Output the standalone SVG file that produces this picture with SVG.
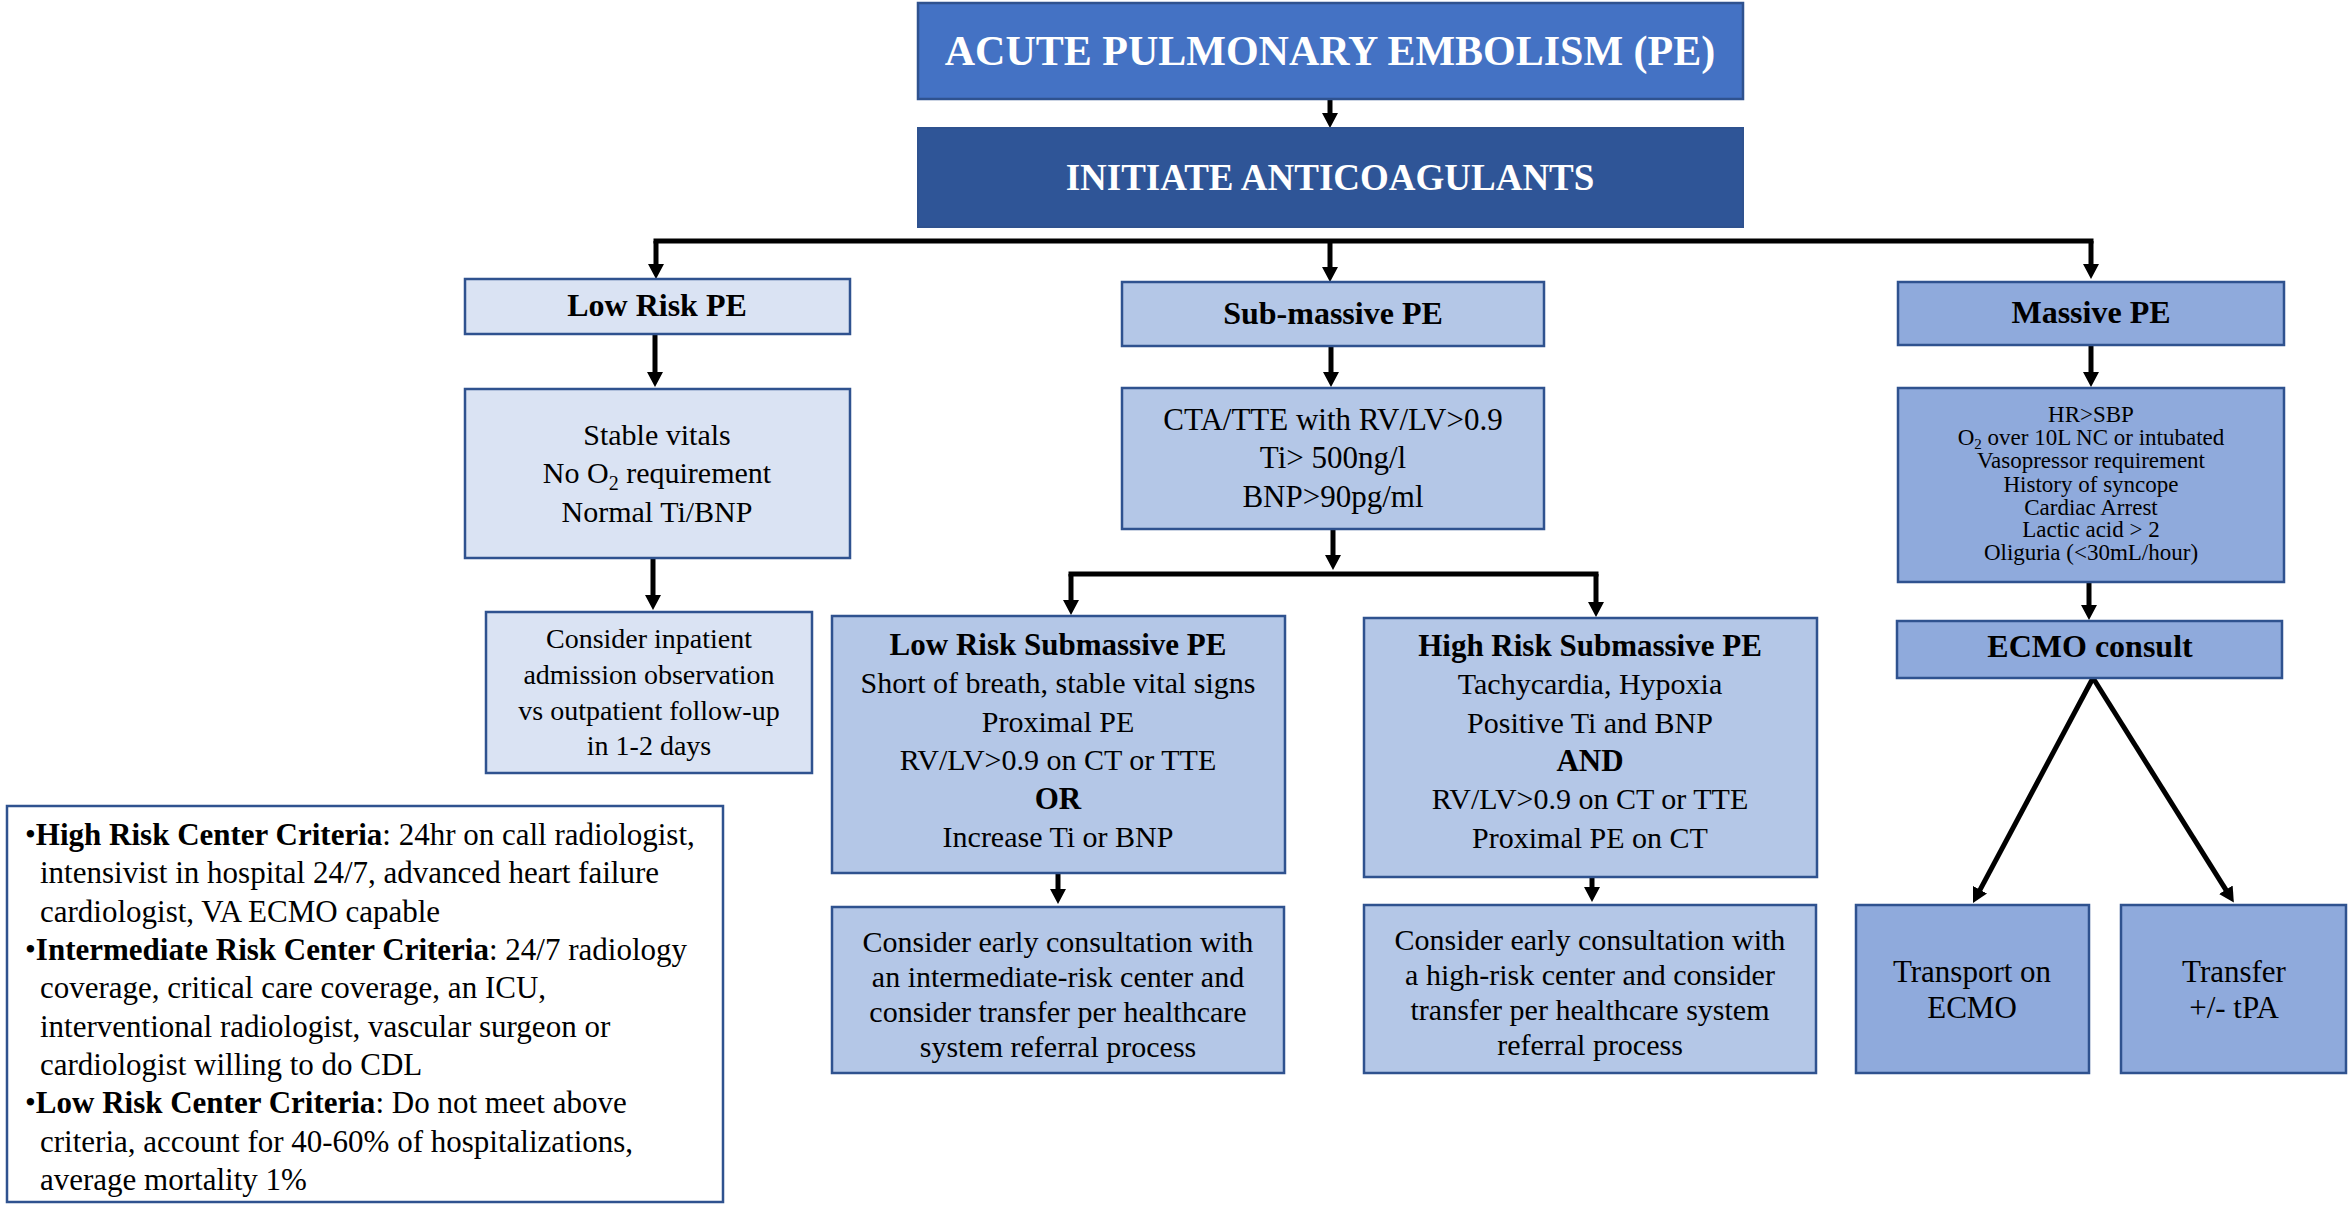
<svg xmlns="http://www.w3.org/2000/svg" width="2348" height="1205" viewBox="0 0 2348 1205" font-family="'Liberation Serif', 'DejaVu Serif', serif">
<style>
text{font-family:'Liberation Serif','DejaVu Serif',serif;fill:#000}
.c{text-anchor:middle}
.b{font-weight:bold}
.w{fill:#fff}
.box{stroke:#2F528F;stroke-width:2.5}
.l1{fill:#DAE3F3}
.l2{fill:#B4C7E7}
.l3{fill:#8FAADC}
.ln{stroke:#000;stroke-width:5;fill:none}
.ar{stroke:#000;stroke-width:5;fill:none;marker-end:url(#ah)}
</style>
<defs>
<marker id="ah" markerWidth="16" markerHeight="16" refX="1" refY="8" orient="auto" markerUnits="userSpaceOnUse"><path d="M0,0 L15,8 L0,16 z" fill="#000"/></marker>
</defs>
<rect width="2348" height="1205" fill="#fff"/>

<g id="connectors">
<path class="ar" d="M1330 99 V114"/>
<path class="ln" d="M653.5 241 H2093.5"/>
<path class="ar" d="M656 241 V265"/>
<path class="ar" d="M1330 241 V268"/>
<path class="ar" d="M2091 241 V265"/>
<path class="ar" d="M655 334 V373"/>
<path class="ar" d="M1331 346 V373"/>
<path class="ar" d="M2091 345 V373"/>
<path class="ar" d="M653 558 V596"/>
<path class="ar" d="M1333 529 V556"/>
<path class="ln" d="M1068.5 574 H1598.5"/>
<path class="ar" d="M1071 574 V601"/>
<path class="ar" d="M1596 574 V603"/>
<path class="ar" d="M2089 582 V606"/>
<path class="ar" d="M1058 873 V890"/>
<path class="ar" d="M1592 877 V888"/>
<path class="ar" d="M2093 678 L1979.6 890.6"/>
<path class="ar" d="M2093 678 L2226.4 890.6"/>
</g>

<g id="title">
<rect x="918" y="3" width="825" height="96" fill="#4472C4" class="box"/>
<text class="c w b" x="1330" y="65" font-size="42">ACUTE PULMONARY EMBOLISM (PE)</text>
</g>
<g id="initiate">
<rect x="918" y="128" width="825" height="99" fill="#2F5597" stroke="#2F528F" stroke-width="2"/>
<text class="c w b" x="1330" y="190" font-size="37">INITIATE ANTICOAGULANTS</text>
</g>

<g id="lowrisk">
<rect x="465" y="279" width="385" height="55" class="box l1"/>
<text class="c b" x="657" y="316" font-size="32">Low Risk PE</text>
</g>
<g id="lowrisk-criteria">
<rect x="465" y="389" width="385" height="169" class="box l1"/>
<text class="c" x="657" y="445" font-size="30">Stable vitals</text>
<text class="c" x="657" y="483" font-size="30">No O<tspan font-size="20" dy="7">2</tspan><tspan dy="-7"> requirement</tspan></text>
<text class="c" x="657" y="522" font-size="30">Normal Ti/BNP</text>
</g>
<g id="lowrisk-action">
<rect x="486" y="612" width="326" height="161" class="box l1"/>
<text class="c" x="649" y="648" font-size="28">Consider inpatient</text>
<text class="c" x="649" y="684" font-size="28">admission observation</text>
<text class="c" x="649" y="720" font-size="28">vs outpatient follow-up</text>
<text class="c" x="649" y="755" font-size="28">in 1-2 days</text>
</g>

<g id="submassive">
<rect x="1122" y="282" width="422" height="64" class="box l2"/>
<text class="c b" x="1333" y="324" font-size="32">Sub-massive PE</text>
</g>
<g id="submassive-criteria">
<rect x="1122" y="388" width="422" height="141" class="box l2"/>
<text class="c" x="1333" y="430" font-size="31">CTA/TTE with RV/LV&gt;0.9</text>
<text class="c" x="1333" y="468" font-size="31">Ti&gt; 500ng/l</text>
<text class="c" x="1333" y="507" font-size="31">BNP&gt;90pg/ml</text>
</g>

<g id="low-risk-submassive">
<rect x="832" y="616" width="453" height="257" class="box l2"/>
<text class="c b" x="1058" y="655" font-size="31">Low Risk Submassive PE</text>
<text class="c" x="1058" y="693" font-size="30">Short of breath, stable vital signs</text>
<text class="c" x="1058" y="732" font-size="30">Proximal PE</text>
<text class="c" x="1058" y="770" font-size="30">RV/LV&gt;0.9 on CT or TTE</text>
<text class="c b" x="1058" y="809" font-size="31">OR</text>
<text class="c" x="1058" y="847" font-size="30">Increase Ti or BNP</text>
</g>
<g id="high-risk-submassive">
<rect x="1364" y="618" width="453" height="259" class="box l2"/>
<text class="c b" x="1590" y="656" font-size="31">High Risk Submassive PE</text>
<text class="c" x="1590" y="694" font-size="30">Tachycardia, Hypoxia</text>
<text class="c" x="1590" y="733" font-size="30">Positive Ti and BNP</text>
<text class="c b" x="1590" y="771" font-size="31">AND</text>
<text class="c" x="1590" y="809" font-size="30">RV/LV&gt;0.9 on CT or TTE</text>
<text class="c" x="1590" y="848" font-size="30">Proximal PE on CT</text>
</g>
<g id="low-submassive-action">
<rect x="832" y="907" width="452" height="166" class="box l2"/>
<text class="c" x="1058" y="952" font-size="30">Consider early consultation with</text>
<text class="c" x="1058" y="987" font-size="30">an intermediate-risk center and</text>
<text class="c" x="1058" y="1022" font-size="30">consider transfer per healthcare</text>
<text class="c" x="1058" y="1057" font-size="30">system referral process</text>
</g>
<g id="high-submassive-action">
<rect x="1364" y="905" width="452" height="168" class="box l2"/>
<text class="c" x="1590" y="950" font-size="30">Consider early consultation with</text>
<text class="c" x="1590" y="985" font-size="30">a high-risk center and consider</text>
<text class="c" x="1590" y="1020" font-size="30">transfer per healthcare system</text>
<text class="c" x="1590" y="1055" font-size="30">referral process</text>
</g>

<g id="massive">
<rect x="1898" y="282" width="386" height="63" class="box l3"/>
<text class="c b" x="2091" y="323" font-size="32">Massive PE</text>
</g>
<g id="massive-criteria">
<rect x="1898" y="388" width="386" height="194" class="box l3"/>
<text class="c" x="2091" y="422" font-size="23">HR&gt;SBP</text>
<text class="c" x="2091" y="445" font-size="23">O<tspan font-size="15" dy="4">2</tspan><tspan dy="-4"> over 10L NC or intubated</tspan></text>
<text class="c" x="2091" y="468" font-size="23">Vasopressor requirement</text>
<text class="c" x="2091" y="492" font-size="23">History of syncope</text>
<text class="c" x="2091" y="515" font-size="23">Cardiac Arrest</text>
<text class="c" x="2091" y="537" font-size="23">Lactic acid &gt; 2</text>
<text class="c" x="2091" y="560" font-size="23">Oliguria (&lt;30mL/hour)</text>
</g>
<g id="ecmo">
<rect x="1897" y="621" width="385" height="57" class="box l3"/>
<text class="c b" x="2090" y="657" font-size="32">ECMO consult</text>
</g>
<g id="transport">
<rect x="1856" y="905" width="233" height="168" class="box l3"/>
<text class="c" x="1972" y="982" font-size="31">Transport on</text>
<text class="c" x="1972" y="1018" font-size="31">ECMO</text>
</g>
<g id="transfer">
<rect x="2121" y="905" width="225" height="168" class="box l3"/>
<text class="c" x="2234" y="982" font-size="31">Transfer</text>
<text class="c" x="2234" y="1018" font-size="31">+/- tPA</text>
</g>

<g id="legend">
<rect x="7" y="806" width="716" height="396" fill="#fff" stroke="#2F528F" stroke-width="2.5"/>
<g font-size="31">
<text x="25" y="845">•<tspan class="b">High Risk Center Criteria</tspan>: 24hr on call radiologist,</text>
<text x="40" y="883">intensivist in hospital 24/7, advanced heart failure</text>
<text x="40" y="922">cardiologist, VA ECMO capable</text>
<text x="25" y="960">•<tspan class="b">Intermediate Risk Center Criteria</tspan>: 24/7 radiology</text>
<text x="40" y="998">coverage, critical care coverage, an ICU,</text>
<text x="40" y="1037">interventional radiologist, vascular surgeon or</text>
<text x="40" y="1075">cardiologist willing to do CDL</text>
<text x="25" y="1113">•<tspan class="b">Low Risk Center Criteria</tspan>: Do not meet above</text>
<text x="40" y="1152">criteria, account for 40-60% of hospitalizations,</text>
<text x="40" y="1190">average mortality 1%</text>
</g>
</g>
</svg>
